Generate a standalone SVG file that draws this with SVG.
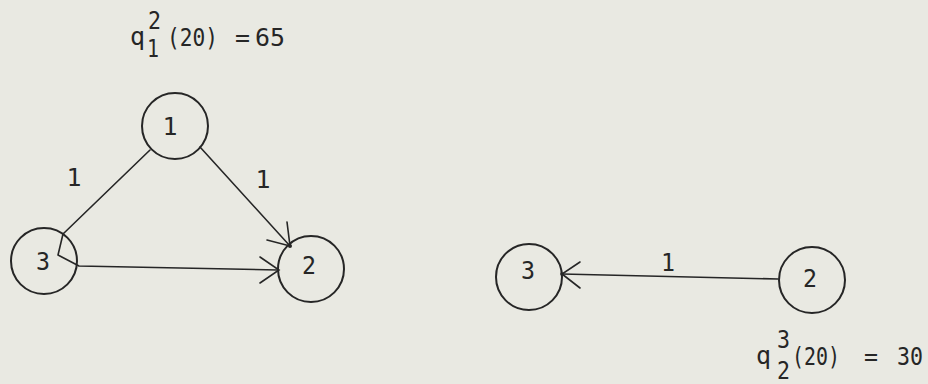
<svg xmlns="http://www.w3.org/2000/svg" width="928" height="384" viewBox="0 0 928 384">
  <style>
    .bg { fill: #e9e9e2; }
    .node { fill: none; stroke: #262626; stroke-width: 2; }
    .edge { fill: none; stroke: #262626; stroke-width: 1.6; stroke-linejoin: round; stroke-linecap: round; }
    .head { fill: none; stroke: #262626; stroke-width: 1.6; stroke-linecap: round; }
    text { font-family: "DejaVu Sans Mono", "Liberation Mono", monospace; fill: #262626; }
    .lbl { font-size: 25px; text-anchor: middle; }
    .eq { font-size: 25px; }
    .idx { font-size: 24px; }
  </style>

  <rect class="bg" x="0" y="0" width="928" height="384"/>

  <!-- directed edges and their weights -->
  <g id="connectors">
    <!-- 1 to 3, hooking inside 3 and running on to 2 -->
    <polyline class="edge" points="150,150 63,234 58,255 79,266 278,270"/>
    <path class="head" d="M260,257 L279,270 L260,283"/>
    <!-- 1 to 2 -->
    <line class="edge" x1="200" y1="147" x2="290" y2="246"/>
    <path class="head" d="M287,222 L290,246 L267,240"/>
    <circle cx="290" cy="246" r="2" fill="#262626"/>
    <!-- 2 to 3 (right graph) -->
    <line class="edge" x1="778" y1="279" x2="562" y2="274"/>
    <path class="head" d="M580,262 L562,274 L580,288"/>
    <circle cx="562" cy="274" r="1.8" fill="#262626"/>

    <text class="lbl" x="74" y="186" textLength="15" lengthAdjust="spacingAndGlyphs">1</text>
    <text class="lbl" x="263" y="188" textLength="15" lengthAdjust="spacingAndGlyphs">1</text>
    <text class="lbl" x="668" y="271" textLength="14" lengthAdjust="spacingAndGlyphs">1</text>
  </g>

  <g id="node-1">
    <circle class="node" cx="175" cy="126" r="33"/>
    <text class="lbl" x="170" y="135" textLength="15" lengthAdjust="spacingAndGlyphs">1</text>
  </g>
  <g id="node-3">
    <circle class="node" cx="44" cy="261" r="33"/>
    <text class="lbl" x="43" y="270" textLength="14" lengthAdjust="spacingAndGlyphs">3</text>
  </g>
  <g id="node-2">
    <circle class="node" cx="311" cy="269" r="33"/>
    <text class="lbl" x="309" y="274" textLength="14" lengthAdjust="spacingAndGlyphs">2</text>
  </g>
  <g id="node-3b">
    <circle class="node" cx="529" cy="277" r="33"/>
    <text class="lbl" x="528" y="279" textLength="14" lengthAdjust="spacingAndGlyphs">3</text>
  </g>
  <g id="node-2b">
    <circle class="node" cx="812" cy="280" r="33"/>
    <text class="lbl" x="810" y="287" textLength="14" lengthAdjust="spacingAndGlyphs">2</text>
  </g>

  <!-- q_1^2(20) = 65 -->
  <g id="label-top">
    <text class="eq" x="130" y="45" textLength="15" lengthAdjust="spacingAndGlyphs">q</text>
    <text class="idx" x="148" y="29" textLength="13" lengthAdjust="spacingAndGlyphs">2</text>
    <text class="idx" x="147" y="57" textLength="12" lengthAdjust="spacingAndGlyphs">1</text>
    <text class="eq" x="167" y="46" textLength="51" lengthAdjust="spacingAndGlyphs">(20)</text>
    <text class="eq" x="235" y="46" textLength="15" lengthAdjust="spacingAndGlyphs">=</text>
    <text class="eq" x="255" y="46" textLength="30" lengthAdjust="spacingAndGlyphs">65</text>
  </g>

  <!-- q_2^3(20) = 30 -->
  <g id="label-bottom">
    <text class="eq" x="756" y="364" textLength="15" lengthAdjust="spacingAndGlyphs">q</text>
    <text class="idx" x="777" y="348" textLength="13" lengthAdjust="spacingAndGlyphs">3</text>
    <text class="idx" x="777" y="379" textLength="13" lengthAdjust="spacingAndGlyphs">2</text>
    <text class="eq" x="792" y="365" textLength="48" lengthAdjust="spacingAndGlyphs">(20)</text>
    <text class="eq" x="864" y="365" textLength="14" lengthAdjust="spacingAndGlyphs">=</text>
    <text class="eq" x="897" y="365" textLength="26" lengthAdjust="spacingAndGlyphs">30</text>
  </g>
</svg>
